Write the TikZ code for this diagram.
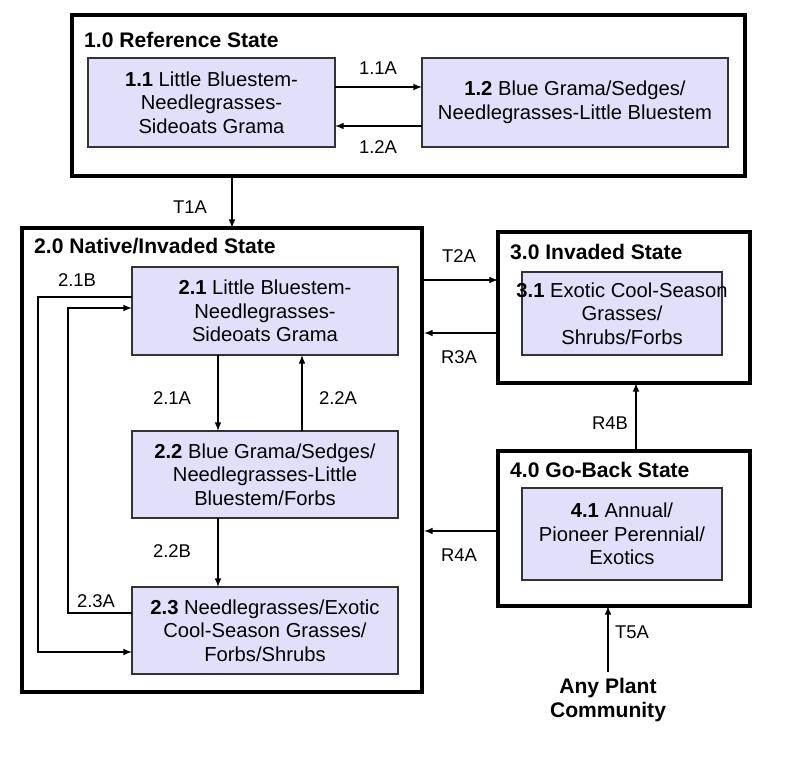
\documentclass[tikz,border=0pt]{standalone}
\usepackage{fontspec}
\setmainfont{Liberation Sans}
\usetikzlibrary{positioning}
\definecolor{boxfill}{HTML}{E0E0FA}
\tikzset{
  state/.style={draw=black, line width=1.8pt},
  phase/.style={draw=black!80, fill=boxfill, line width=0.6pt},
  ptext/.style={align=center, font=\fontsize{11.5}{13.5}\selectfont},
  title/.style={anchor=west, font=\bfseries\fontsize{12}{14}\selectfont},
  lbl/.style={font=\fontsize{10.5}{12}\selectfont},
  trans/.style={-latex, line width=0.7pt},
}
\begin{document}
\begin{tikzpicture}[x=0.02cm, y=-0.02cm]
\useasboundingbox (0,0) rectangle (800,760);

% states
\draw[state] (72,15) rectangle (745,176);
\node[title] (s1) at (78,40) {1.0 Reference State};
\draw[state] (22,228) rectangle (422,692);
\node[title] (s2) at (28,246) {2.0 Native/Invaded State};
\draw[state] (498,232) rectangle (750,383);
\node[title] (s3) at (504,252) {3.0 Invaded State};
\draw[state] (498,451) rectangle (750,606);
\node[title] (s4) at (504,470) {4.0 Go-Back State};

% communities
\draw[phase] (88,58) rectangle (335,147);
\node[ptext] (p11) at (211.5,102.5) {\textbf{1.1} Little Bluestem-\\Needlegrasses-\\Sideoats Grama};
\draw[phase] (422,58) rectangle (728,147);
\node[ptext] (p12) at (575,102.5) {\textbf{1.2} Blue Grama/Sedges/\\Needlegrasses-Little Bluestem};
\draw[phase] (132,267) rectangle (398,355);
\node[ptext] (p21) at (265,311) {\textbf{2.1} Little Bluestem-\\Needlegrasses-\\Sideoats Grama};
\draw[phase] (132,431) rectangle (398,518);
\node[ptext] (p22) at (265,474.5) {\textbf{2.2} Blue Grama/Sedges/\\Needlegrasses-Little\\Bluestem/Forbs};
\draw[phase] (132,587) rectangle (398,674);
\node[ptext] (p23) at (265,630.5) {\textbf{2.3} Needlegrasses/Exotic\\Cool-Season Grasses/\\Forbs/Shrubs};
\draw[phase] (522,272) rectangle (722,355);
\node[ptext] (p31) at (622,313.5) {\textbf{3.1} Exotic Cool-Season\\Grasses/\\Shrubs/Forbs};
\draw[phase] (522,488) rectangle (722,580);
\node[ptext] (p41) at (622,534) {\textbf{4.1} Annual/\\Pioneer Perennial/\\Exotics};
\node[align=center, font=\bfseries\fontsize{12}{14}\selectfont] (any) at (608,700) {Any Plant\\Community};

% transitions
\draw[trans] (335,87) -- (422,87);
\node[lbl] (l11a) at (378,68) {1.1A};
\draw[trans] (422,126) -- (335,126);
\node[lbl] (l12a) at (378,147) {1.2A};
\draw[trans] (232,176) -- (232,228);
\node[lbl] (lt1a) at (190,207) {T1A};
\draw[trans] (218,355) -- (218,431);
\node[lbl] (l21a) at (172,398) {2.1A};
\draw[trans] (302,431) -- (302,355);
\node[lbl] (l22a) at (338,398) {2.2A};
\draw[trans] (218,518) -- (218,587);
\node[lbl] (l22b) at (172,551) {2.2B};
\draw[trans] (132,297) -- (38,297) -- (38,652) -- (132,652);
\node[lbl] (l21b) at (77,280) {2.1B};
\draw[trans] (132,613) -- (68,613) -- (68,308) -- (132,308);
\node[lbl] (l23a) at (96,601) {2.3A};
\draw[trans] (424,280) -- (498,280);
\node[lbl] (lt2a) at (459,256) {T2A};
\draw[trans] (498,333) -- (424,333);
\node[lbl] (lr3a) at (459,357) {R3A};
\draw[trans] (636,451) -- (636,383);
\node[lbl] (lr4b) at (610,423) {R4B};
\draw[trans] (any.north -| 608,0) -- (608,606);
\node[lbl] (lt5a) at (632,632) {T5A};
\draw[trans] (498,531) -- (424,531);
\node[lbl] (lr4a) at (459,555) {R4A};
\end{tikzpicture}
\end{document}
